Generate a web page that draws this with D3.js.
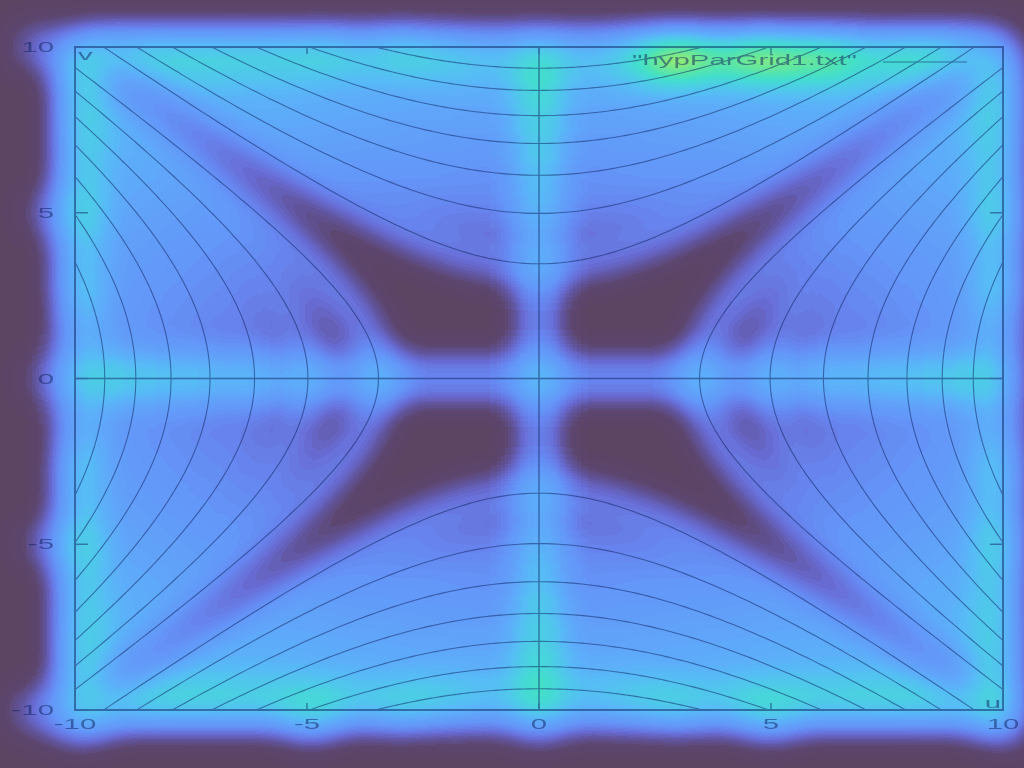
<!DOCTYPE html>
<html><head><meta charset="utf-8">
<script src="https://cdn.jsdelivr.net/npm/d3@7"></script>
<style>html,body{margin:0;padding:0;background:#5b4463;overflow:hidden}</style>
</head><body>
<svg id="chart" width="1024" height="768"></svg>
<script>
// ---- data ----
const vertexValues = [3.46, 4.98, 6.13, 7.09, 7.93, 8.69, 9.36, 10]; // hyperbola vertices (both families)
const xTicks = [-10, -5, 0, 5, 10];
const yTicks = [-10, -5, 0, 5, 10];
const xDomain = [-10, 10];
const yDomain = [-10, 10];
const legendLabel = '"hypParGrid1.txt"';
const xAxisLabel = 'u';
const yAxisLabel = 'v';

// ---- layout ----
const W = 1024, H = 768;
const L = 75, R = 1003, T = 47, B = 710;
const x = d3.scaleLinear().domain(xDomain).range([L, R]);
const y = d3.scaleLinear().domain(yDomain).range([B, T]);
const svg = d3.select('#chart');

// colormap for the glow
const cmap = [
  [92,68,100],[93,70,110],[98,85,160],[104,108,212],[104,132,238],
  [100,150,248],[98,160,250],[94,172,250],[88,186,246],[80,200,236],
  [72,212,222],[68,222,205],[80,228,180],[110,232,150],[150,234,115],
  [190,236,85],[225,236,60]
];
const defs = svg.append('defs');
const f = defs.append('filter').attr('id','heat')
  .attr('filterUnits','userSpaceOnUse').attr('x',0).attr('y',0).attr('width',W).attr('height',H)
  .attr('color-interpolation-filters','sRGB');
f.append('feGaussianBlur').attr('in','SourceAlpha').attr('stdDeviation',20);
const GAIN = 4.3;
f.append('feColorMatrix').attr('type','matrix')
  .attr('values',`0 0 0 ${GAIN} 0  0 0 0 ${GAIN} 0  0 0 0 ${GAIN} 0  0 0 0 0 1`);
const ct = f.append('feComponentTransfer');
['R','G','B'].forEach((c,i)=>{
  ct.append('feFunc'+c).attr('type','table')
    .attr('tableValues', cmap.map(v => (v[i]/255).toFixed(3)).join(' '));
});

// ---- curve geometry ----
function curves() {
  const out = [];
  vertexValues.forEach(a => {
    const m = Math.sqrt(Math.max(0, 100 - a*a));
    const n = 120;
    const s = d3.range(n+1).map(i => -m + 2*m*i/n);
    [1,-1].forEach(sg => {
      out.push(s.map(t => [sg*Math.sqrt(a*a + t*t), t]));
      out.push(s.map(t => [t, sg*Math.sqrt(a*a + t*t)]));
    });
  });
  return out;
}
const line = d3.line().x(d => x(d[0])).y(d => y(d[1]));
const FONT = 'Liberation Sans, Arial, Helvetica, sans-serif';
const SX = 2.1;
const INK = '#0b1e5c';

function drawChart(g, heat) {
  const cw = heat ? 2.4 : 1.1;
  g.append('g').selectAll('path').data(curves()).join('path')
    .attr('d', line).attr('fill','none').attr('stroke',INK).attr('stroke-width',cw);
  g.append('line').attr('x1',x(-10)).attr('x2',x(10)).attr('y1',y(0)).attr('y2',y(0))
    .attr('stroke',INK).attr('stroke-width',heat?2.8:1.4);
  g.append('line').attr('x1',x(0)).attr('x2',x(0)).attr('y1',y(-10)).attr('y2',y(10))
    .attr('stroke',INK).attr('stroke-width',heat?2.8:1.4);
  g.append('rect').attr('x',x(-10)).attr('y',y(10)).attr('width',x(10)-x(-10)).attr('height',y(-10)-y(10))
    .attr('fill','none').attr('stroke',INK).attr('stroke-width',heat?3.2:2);
  const tw = heat?2.5:1.4;
  xTicks.forEach(v => {
    g.append('line').attr('x1',x(v)).attr('x2',x(v)).attr('y1',y(-10)).attr('y2',y(-10)-7).attr('stroke',INK).attr('stroke-width',tw);
    g.append('line').attr('x1',x(v)).attr('x2',x(v)).attr('y1',y(10)).attr('y2',y(10)+7).attr('stroke',INK).attr('stroke-width',tw);
  });
  yTicks.forEach(v => {
    g.append('line').attr('y1',y(v)).attr('y2',y(v)).attr('x1',x(-10)).attr('x2',x(-10)+13).attr('stroke',INK).attr('stroke-width',tw);
    g.append('line').attr('y1',y(v)).attr('y2',y(v)).attr('x1',x(10)).attr('x2',x(10)-13).attr('stroke',INK).attr('stroke-width',tw);
  });
  function label(txt, px, py, anchor) {
    g.append('g').attr('transform',`translate(${px},${py}) scale(${SX},1)`)
      .append('text').text(txt).attr('text-anchor',anchor)
      .attr('font-family',FONT).attr('font-size',14).attr('fill',INK);
  }
  xTicks.forEach(v => label(String(v), x(v), 729, 'middle'));
  yTicks.forEach(v => label(String(v), 54, y(v)+5, 'end'));
  label(yAxisLabel, 78, 60, 'start');
  label(xAxisLabel, 1001, 708, 'end');
  label(legendLabel, 632, 65, 'start');
  g.append('line').attr('x1',883).attr('x2',967).attr('y1',62).attr('y2',62)
    .attr('stroke',INK).attr('stroke-width',heat ? 0.8 : 1.1);
}

const heatLayer = svg.append('g').attr('filter','url(#heat)');
drawChart(heatLayer, true);
const inkLayer = svg.append('g').attr('opacity',0.5);
drawChart(inkLayer, false);
</script>
</body></html>
